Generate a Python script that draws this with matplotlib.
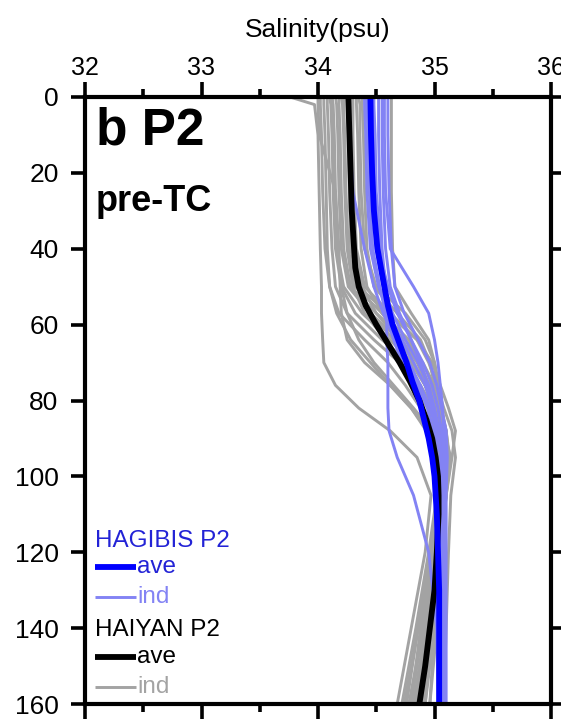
import numpy as np
import matplotlib
matplotlib.use("Agg")
import matplotlib.pyplot as plt
from matplotlib.ticker import MultipleLocator

plt.rcParams['font.family'] = ['Liberation Sans', 'DejaVu Sans']

# ---- data -------------------------------------------------------------
# depth levels (m) of the individual profiles
ind_depth = [0, 2, 10, 25, 40, 50, 57, 64, 70, 76, 82, 88, 95, 105, 120, 140, 160]

# HAIYAN P2 individual salinity profiles (psu)
haiyan_ind = [
    [33.76, 33.97, 34.00, 34.01, 34.02, 34.03, 34.03, 34.04, 34.05, 34.15, 34.35, 34.62, 34.85, 34.97, 34.92, 34.80, 34.68],
    [34.00, 34.00, 34.01, 34.15, 34.18, 34.19, 34.20, 34.25, 34.40, 34.62, 34.80, 34.93, 35.00, 35.02, 34.95, 34.84, 34.72],
    [34.05, 34.05, 34.06, 34.07, 34.08, 34.10, 34.18, 34.40, 34.60, 34.75, 34.88, 34.98, 35.03, 35.04, 34.96, 34.86, 34.76],
    [34.08, 34.08, 34.09, 34.10, 34.12, 34.15, 34.25, 34.48, 34.70, 34.88, 34.99, 35.05, 35.08, 35.06, 34.98, 34.88, 34.80],
    [34.10, 34.11, 34.12, 34.13, 34.15, 34.20, 34.32, 34.55, 34.78, 34.95, 35.05, 35.10, 35.12, 35.08, 35.00, 34.92, 34.84],
    [34.12, 34.12, 34.13, 34.14, 34.16, 34.22, 34.38, 34.62, 34.80, 34.92, 35.00, 35.05, 35.06, 35.05, 35.00, 34.93, 34.86],
    [34.15, 34.16, 34.17, 34.18, 34.20, 34.26, 34.45, 34.70, 34.86, 34.96, 35.02, 35.08, 35.10, 35.08, 35.02, 34.95, 34.88],
    [34.18, 34.18, 34.19, 34.20, 34.22, 34.28, 34.50, 34.75, 34.90, 35.00, 35.06, 35.10, 35.12, 35.10, 35.04, 34.97, 34.90],
    [34.20, 34.21, 34.22, 34.23, 34.25, 34.30, 34.40, 34.58, 34.72, 34.84, 34.94, 35.00, 35.04, 35.05, 35.03, 35.00, 34.96],
    [34.22, 34.22, 34.23, 34.24, 34.26, 34.32, 34.55, 34.78, 34.88, 34.95, 35.02, 35.08, 35.14, 35.10, 35.06, 35.02, 34.96],
    [34.25, 34.25, 34.26, 34.27, 34.28, 34.35, 34.60, 34.85, 34.95, 35.02, 35.08, 35.15, 35.18, 35.14, 35.12, 35.10, 35.08],
    [34.28, 34.28, 34.29, 34.30, 34.32, 34.38, 34.50, 34.70, 34.82, 34.92, 35.00, 35.06, 35.10, 35.08, 35.04, 35.00, 34.92],
    [34.30, 34.30, 34.30, 34.31, 34.33, 34.40, 34.62, 34.85, 34.98, 35.05, 35.12, 35.18, 35.15, 35.10, 35.05, 34.98, 34.92],
    [34.33, 34.33, 34.34, 34.35, 34.37, 34.42, 34.55, 34.72, 34.85, 34.94, 35.01, 35.06, 35.08, 35.08, 35.08, 35.09, 35.08],
    [34.35, 34.36, 34.36, 34.37, 34.40, 34.50, 34.75, 34.92, 35.00, 35.04, 35.06, 35.09, 35.10, 35.07, 35.02, 34.94, 34.86],
    [34.63, 34.63, 34.63, 34.63, 34.64, 34.66, 34.80, 34.95, 35.00, 35.02, 35.05, 35.10, 35.13, 35.10, 35.05, 34.98, 34.90],
    [34.02, 34.02, 34.03, 34.04, 34.06, 34.10, 34.16, 34.28, 34.45, 34.62, 34.80, 34.95, 35.04, 35.05, 34.97, 34.86, 34.74],
    [34.12, 34.13, 34.14, 34.15, 34.17, 34.20, 34.25, 34.35, 34.48, 34.65, 34.82, 34.98, 35.08, 35.10, 35.01, 34.90, 34.78],
    [34.38, 34.38, 34.39, 34.40, 34.42, 34.48, 34.68, 34.88, 34.96, 35.00, 35.04, 35.08, 35.10, 35.06, 35.00, 34.92, 34.82],
    [34.26, 34.26, 34.27, 34.28, 34.30, 34.34, 34.45, 34.65, 34.80, 34.92, 35.00, 35.06, 35.09, 35.06, 34.99, 34.90, 34.80],
]

# HAGIBIS P2 individual salinity profiles (psu)
hagibis_ind = [
    [34.25, 34.26, 34.27, 34.30, 34.40, 34.48, 34.56, 34.66, 34.76, 34.86, 34.94, 34.99, 35.02, 35.03, 35.04, 35.05, 35.05],
    [34.40, 34.40, 34.41, 34.42, 34.45, 34.52, 34.60, 34.72, 34.82, 34.92, 34.98, 35.03, 35.05, 35.06, 35.07, 35.07, 35.08],
    [34.44, 34.44, 34.45, 34.46, 34.50, 34.56, 34.64, 34.75, 34.86, 34.95, 35.00, 35.04, 35.06, 35.07, 35.08, 35.09, 35.09],
    [34.52, 34.52, 34.52, 34.53, 34.55, 34.58, 34.62, 34.68, 34.78, 34.88, 34.96, 35.02, 35.06, 35.08, 35.08, 35.08, 35.08],
    [34.57, 34.57, 34.57, 34.58, 34.62, 34.82, 34.95, 35.00, 35.03, 35.05, 35.07, 35.08, 35.09, 35.08, 35.07, 35.07, 35.06],
    [34.48, 34.48, 34.49, 34.50, 34.54, 34.58, 34.59, 34.59, 34.60, 34.60, 34.60, 34.61, 34.68, 34.82, 34.95, 35.02, 35.03],
    [34.46, 34.46, 34.47, 34.48, 34.52, 34.60, 34.68, 34.80, 34.90, 34.98, 35.03, 35.06, 35.08, 35.08, 35.08, 35.08, 35.07],
    [34.55, 34.55, 34.55, 34.56, 34.58, 34.62, 34.70, 34.80, 34.88, 34.94, 34.98, 35.01, 35.02, 35.03, 35.04, 35.05, 35.05],
    [34.42, 34.42, 34.43, 34.44, 34.47, 34.53, 34.58, 34.65, 34.72, 34.80, 34.88, 34.95, 35.00, 35.03, 35.05, 35.06, 35.06],
    [34.60, 34.60, 34.60, 34.61, 34.63, 34.66, 34.74, 34.86, 34.96, 35.02, 35.06, 35.10, 35.11, 35.10, 35.10, 35.10, 35.10],
]

# mean profiles
ave_depth = [0, 10, 20, 30, 40, 45, 50, 55, 60, 65, 70, 75, 80, 85, 90, 95,
             100, 105, 110, 120, 130, 140, 150, 160]
haiyan_ave = [34.26, 34.27, 34.28, 34.29, 34.31, 34.32, 34.35, 34.41, 34.50, 34.60,
              34.70, 34.79, 34.87, 34.93, 34.98, 35.01, 35.03, 35.035, 35.035,
              35.02, 35.00, 34.96, 34.92, 34.87]
hagibis_ave = [34.45, 34.455, 34.465, 34.48, 34.51, 34.54, 34.57, 34.60, 34.64, 34.70,
               34.76, 34.81, 34.87, 34.91, 34.95, 34.98, 35.00, 35.01, 35.02,
               35.03, 35.04, 35.04, 35.04, 35.04]

x_ticks = [32, 33, 34, 35, 36]
y_ticks = [0, 20, 40, 60, 80, 100, 120, 140, 160]

# ---- colours ----------------------------------------------------------
c_hag_ave = '#0000ff'
c_hag_ind = '#8383f4'
c_hai_ave = '#000000'
c_hai_ind = '#a3a3a3'
c_hag_txt = '#2323d6'

# ---- figure -----------------------------------------------------------
fig = plt.figure(figsize=(5.61, 7.2), dpi=100)
ax = fig.add_axes([85 / 561, 1 - 704 / 720, 466 / 561, 607 / 720])

for prof in haiyan_ind:
    ax.plot(prof, ind_depth, color=c_hai_ind, lw=2.1, solid_joinstyle='round')
for prof in hagibis_ind:
    ax.plot(prof, ind_depth, color=c_hag_ind, lw=2.1, solid_joinstyle='round')
ax.plot(haiyan_ave, ave_depth, color=c_hai_ave, lw=4.2, solid_capstyle='butt')
ax.plot(hagibis_ave, ave_depth, color=c_hag_ave, lw=4.2, solid_capstyle='butt')

ax.set_xlim(32, 36)
ax.set_ylim(160, 0)

ax.xaxis.set_ticks_position('both')
ax.xaxis.set_label_position('top')
ax.yaxis.set_ticks_position('both')
ax.set_xticks(x_ticks)
ax.xaxis.set_minor_locator(MultipleLocator(0.5))
ax.set_yticks(y_ticks)
ax.tick_params(axis='x', which='major', direction='out', length=11, width=2.6,
               labeltop=True, labelbottom=False, labelsize=18, pad=1)
ax.tick_params(axis='x', which='minor', direction='out', length=6, width=2.6)
ax.tick_params(axis='y', which='major', direction='out', length=10, width=2.6,
               labelleft=True, labelright=False, labelsize=19, pad=9)
for sp in ax.spines.values():
    sp.set_linewidth(3.0)

ax.set_xlabel('Salinity(psu)', fontsize=19, labelpad=14)

# panel titles
ax.text(0.023, 0.985, 'b P2', transform=ax.transAxes, fontsize=37,
        fontweight='bold', va='top', ha='left')
ax.text(0.023, 0.857, 'pre-TC', transform=ax.transAxes, fontsize=26,
        fontweight='bold', va='top', ha='left')

# legend block
def legend_line(y, color, lw, label, tcolor):
    ax.plot([32.09, 32.44], [y, y], color=color, lw=lw, solid_capstyle='butt',
            clip_on=False)
    ax.text(32.45, y, label, color=tcolor, fontsize=17.5, va='center', ha='left')

ax.text(32.09, 117.0, 'HAGIBIS P2', color=c_hag_txt, fontsize=17.5,
        va='center', ha='left')
legend_line(124.0, c_hag_ave, 4.2, 'ave', c_hag_txt)
legend_line(131.8, c_hag_ind, 2.1, 'ind', c_hag_ind)
ax.text(32.09, 140.4, 'HAIYAN P2', color='black', fontsize=17.5,
        va='center', ha='left')
legend_line(147.6, c_hai_ave, 4.2, 'ave', 'black')
legend_line(155.6, c_hai_ind, 2.1, 'ind', c_hai_ind)

fig.savefig('out.png', dpi=100)
